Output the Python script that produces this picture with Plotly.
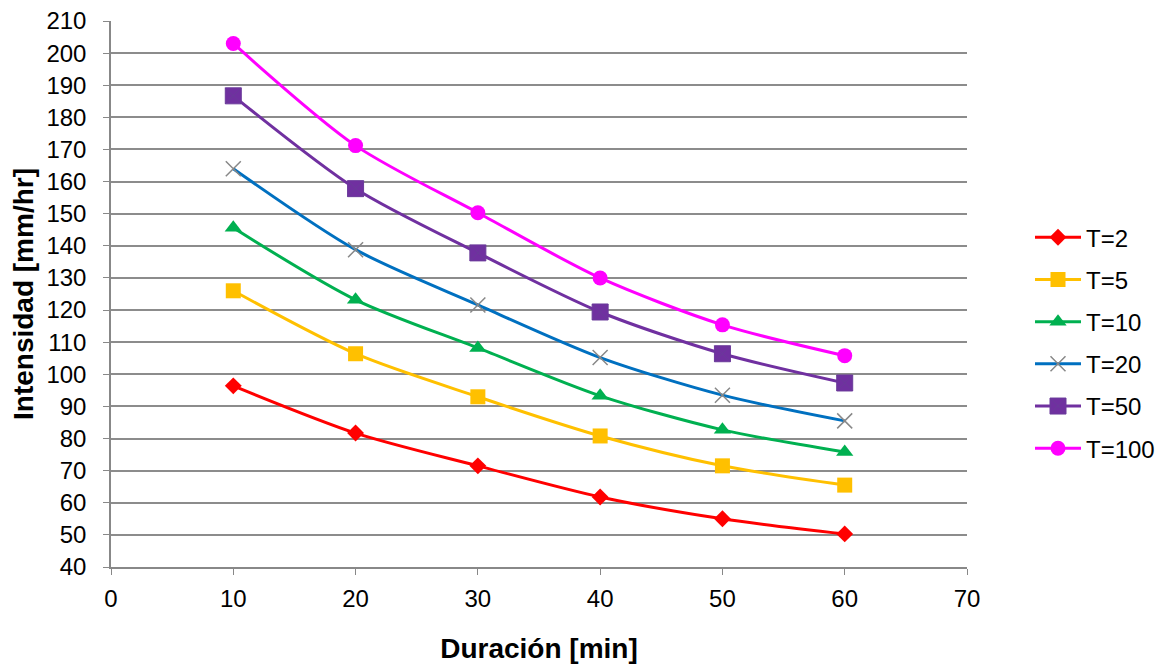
import plotly.graph_objects as go

duracion = [10, 20, 30, 40, 50, 60]
series_names = ["T=2", "T=5", "T=10", "T=20", "T=50", "T=100"]
t2 = [96.4, 81.7, 71.5, 61.8, 55.0, 50.3]
t5 = [126.0, 106.4, 93.0, 80.8, 71.5, 65.5]
t10 = [145.6, 123.2, 108.2, 93.3, 82.7, 75.8]
t20 = [164.0, 138.8, 121.6, 105.2, 93.5, 85.5]
t50 = [186.7, 157.8, 137.8, 119.4, 106.4, 97.3]
t100 = [203.0, 171.2, 150.3, 130.0, 115.4, 105.8]
y_ticks = list(range(40, 211, 10))
x_ticks = list(range(0, 71, 10))

values = [t2, t5, t10, t20, t50, t100]
line_colors = ["#FF0000", "#FFC000", "#00B050", "#0070C0", "#7030A0", "#FF00FF"]
marker_colors = ["#FF0000", "#FFC000", "#00B050", "#888888", "#7030A0", "#FF00FF"]
symbols = ["diamond", "square", "triangle-up", "x-thin-open", "square-x", "circle"]
sizes = [13, 15, 15, 15, 16, 15]

fig = go.Figure()
for i, (name, vals) in enumerate(zip(series_names, values)):
    marker = dict(symbol=symbols[i], size=sizes[i], color=marker_colors[i])
    if symbols[i] == "x-thin-open":
        marker["line"] = dict(color=marker_colors[i], width=1.5)
    elif symbols[i] == "square-x":
        marker["line"] = dict(color="#6a3a9a", width=1)
    else:
        marker["line"] = dict(width=0)
    fig.add_trace(go.Scatter(
        x=duracion, y=vals, name=name, mode="lines+markers",
        line=dict(color=line_colors[i], width=3, shape="spline", smoothing=0.8),
        marker=marker, legendgroup=f"g{i}",
    ))

base_font = "Liberation Sans, Arial, sans-serif"
fig.update_layout(
    width=1153, height=656,
    margin=dict(l=103, r=194, t=13, b=97, autoexpand=False),
    paper_bgcolor="white", plot_bgcolor="white",
    font=dict(family=base_font, size=24, color="#000000"),
    showlegend=True,
    legend=dict(x=1.0736, y=0.41, xanchor="left", yanchor="middle",
                font=dict(family=base_font, size=24, color="#000000"),
                tracegroupgap=8, traceorder="grouped", itemwidth=46),
    xaxis=dict(range=[0, 70], tickvals=x_ticks, showgrid=False, zeroline=False,
               showline=True, linecolor="#888888", linewidth=1.5,
               ticks="outside", tickcolor="#888888", ticklen=6,
               ticklabelstandoff=3, automargin=False, ticklabeloverflow="allow",
               tickfont=dict(size=24),
               title=dict(text="<b>Duración [min]</b>", font=dict(size=28), standoff=32)),
    yaxis=dict(range=[40, 210], tickvals=y_ticks, showgrid=True, gridcolor="#8c8c8c", gridwidth=1.5,
               zeroline=False, showline=True, linecolor="#888888", linewidth=1.5,
               ticks="outside", tickcolor="#888888", ticklen=6,
               ticklabelstandoff=12, automargin=False, ticklabeloverflow="allow",
               tickfont=dict(size=24),
               title=dict(text="<b>Intensidad [mm/hr]</b>", font=dict(size=28), standoff=9)),
)
fig.write_html("out.html")
